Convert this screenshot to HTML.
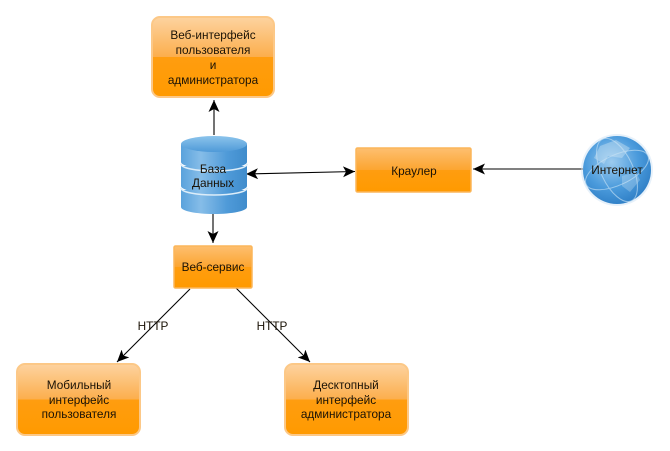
<!DOCTYPE html>
<html><head><meta charset="utf-8"><style>
html,body{margin:0;padding:0;background:#fff}
svg{display:block}
text{font-family:"Liberation Sans",sans-serif;font-size:11.8px;fill:#1a1206;text-anchor:middle}
</style></head><body>
<svg width="670" height="451" viewBox="0 0 670 451" xmlns="http://www.w3.org/2000/svg">
<defs>
<linearGradient id="o" x1="0" y1="0" x2="0" y2="1">
<stop offset="0" stop-color="#fdd3a0"/><stop offset=".5" stop-color="#fcae4c"/><stop offset=".5" stop-color="#ff9d10"/><stop offset="1" stop-color="#ff9a00"/>
</linearGradient>
<linearGradient id="o2" x1="0" y1="0" x2="0" y2="1">
<stop offset="0" stop-color="#fdbf70"/><stop offset=".5" stop-color="#fca530"/><stop offset=".5" stop-color="#ff9d10"/><stop offset="1" stop-color="#ff9a00"/>
</linearGradient>
<linearGradient id="b" x1="0" y1="0" x2="1" y2="0">
<stop offset="0" stop-color="#5aa2dc"/><stop offset=".3" stop-color="#86bde8"/><stop offset=".7" stop-color="#4f9ad8"/><stop offset="1" stop-color="#3f8ccc"/>
</linearGradient>
<linearGradient id="t" x1="0" y1="0" x2="0" y2="1">
<stop offset="0" stop-color="#8cc4ec"/><stop offset="1" stop-color="#4f9ad8"/>
</linearGradient>
<radialGradient id="g" cx=".42" cy=".38" r=".65">
<stop offset="0" stop-color="#9ccbef"/><stop offset=".6" stop-color="#4b9bdc"/><stop offset="1" stop-color="#2f7fc6"/>
</radialGradient>
<marker id="a" markerWidth="13" markerHeight="12" refX="12" refY="6" orient="auto" markerUnits="userSpaceOnUse"><path d="M0 .5L12 6L0 11.5L3 6Z" fill="#000"/></marker>
<marker id="as" markerWidth="13" markerHeight="12" refX="1" refY="6" orient="auto" markerUnits="userSpaceOnUse"><path d="M13 .5L1 6L13 11.5L10 6Z" fill="#000"/></marker>
</defs>

<g stroke="#000" stroke-width="1.1" fill="none">
<line x1="214" y1="135" x2="214" y2="100" marker-end="url(#a)"/>
<line x1="213" y1="214" x2="213" y2="243" marker-end="url(#a)"/>
<line x1="246" y1="174" x2="355" y2="171.5" marker-start="url(#as)" marker-end="url(#a)"/>
<line x1="583" y1="169" x2="473" y2="169" marker-end="url(#a)"/>
<line x1="190" y1="289" x2="117" y2="362" marker-end="url(#a)"/>
<line x1="236" y1="288" x2="310" y2="362" marker-end="url(#a)"/>
</g>

<rect x="152" y="17" width="122" height="80" rx="8" fill="url(#o)" stroke="#fcc887" stroke-width="2"/>
<rect x="17" y="364" width="123" height="71" rx="8" fill="url(#o)" stroke="#fcc887" stroke-width="2"/>
<rect x="285" y="364" width="123" height="71" rx="8" fill="url(#o)" stroke="#fcc887" stroke-width="2"/>
<rect x="356" y="148" width="115" height="44" rx="1.5" fill="url(#o2)" stroke="#fbb65a" stroke-width="1.5"/>
<rect x="174" y="246" width="78" height="42" rx="1.5" fill="url(#o2)" stroke="#fbb65a" stroke-width="1.5"/>

<!-- database -->
<path d="M181 190v17c0 4 15 7 33 7s33-3 33-7v-17z" fill="url(#b)"/>
<path d="M181 166v20c0 4 15 7 33 7s33-3 33-7v-20z" fill="url(#b)"/>
<path d="M181 144v18c0 4 15 7 33 7s33-3 33-7v-18z" fill="url(#b)"/>
<path d="M181 164c0 4 15 7 33 7s33-3 33-7" fill="none" stroke="#dcedf9" stroke-width="1.6"/>
<path d="M181 188c0 4 15 7 33 7s33-3 33-7" fill="none" stroke="#dcedf9" stroke-width="1.6"/>
<ellipse cx="214" cy="144" rx="33" ry="8" fill="url(#t)"/>

<!-- globe -->
<circle cx="617" cy="170" r="36" fill="#cfe4f5" opacity=".5"/>
<circle cx="617" cy="170" r="34" fill="url(#g)"/>
<g fill="none" stroke="#bcdcf3" stroke-width="1" opacity=".7">
<ellipse cx="617" cy="170" rx="34" ry="15" transform="rotate(-25 617 170)"/>
<ellipse cx="617" cy="170" rx="16" ry="34" transform="rotate(-25 617 170)"/>
</g>
<path d="M600 146l16-6 14 8-8 10-14-2-4 8-10-6z" fill="#d5e8f6" opacity=".4"/>
<path d="M622 176l14-4 4 8-10 12-8-6z" fill="#d5e8f6" opacity=".3"/>

<text x="213" y="39">Веб-интерфейс</text>
<text x="213" y="54">пользователя</text>
<text x="213" y="69">и</text>
<text x="213" y="84">администратора</text>
<text x="213" y="173">База</text>
<text x="213" y="187">Данных</text>
<text x="414" y="175">Краулер</text>
<text x="617" y="174">Интернет</text>
<text x="213" y="271">Веб-сервис</text>
<text x="153" y="330">HTTP</text>
<text x="272" y="330">HTTP</text>
<text x="79" y="389">Мобильный</text>
<text x="79" y="404">интерфейс</text>
<text x="79" y="418">пользователя</text>
<text x="346" y="389">Десктопный</text>
<text x="346" y="404">интерфейс</text>
<text x="346" y="418">администратора</text>
</svg>
</body></html>
